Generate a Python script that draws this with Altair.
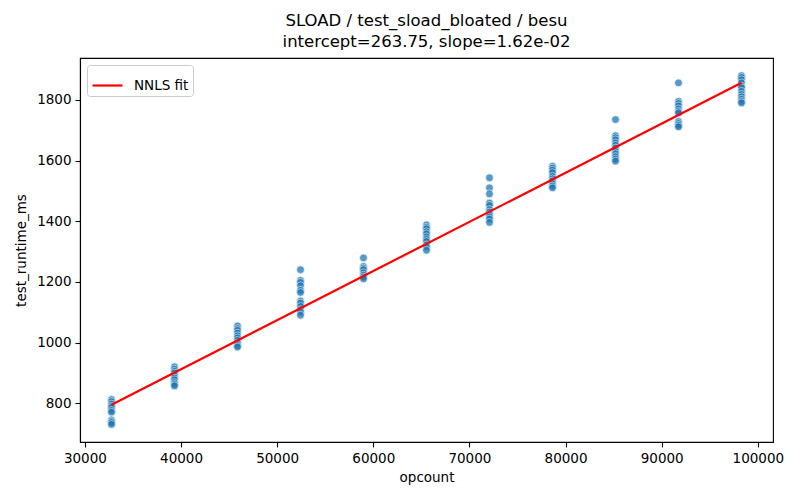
import altair as alt
import pandas as pd

opcounts = [32768, 39322, 45875, 52429, 58982, 65536, 72090, 78643, 85197, 91750, 98304]
runtimes = [
    [812, 805, 797, 790, 786, 776, 770, 745, 740, 736, 730],
    [920, 912, 905, 899, 890, 883, 877, 868, 862, 857],
    [1055, 1046, 1040, 1031, 1022, 1015, 1007, 998, 990, 985],
    [1240, 1205, 1198, 1187, 1172, 1165, 1137, 1130, 1119, 1108, 1100, 1090],
    [1279, 1251, 1245, 1240, 1230, 1222, 1216, 1210],
    [1388, 1380, 1375, 1365, 1358, 1348, 1340, 1333, 1322, 1315, 1304],
    [1543, 1510, 1490, 1460, 1452, 1438, 1430, 1421, 1414, 1407, 1396],
    [1581, 1575, 1568, 1560, 1548, 1540, 1533, 1524, 1516, 1510],
    [1735, 1682, 1675, 1668, 1658, 1650, 1641, 1630, 1622, 1613, 1605, 1598],
    [1856, 1795, 1788, 1780, 1770, 1762, 1757, 1729, 1722, 1716, 1711],
    [1880, 1874, 1866, 1856, 1845, 1840, 1828, 1818, 1810, 1802, 1795, 1790],
]
fit_x = [32768, 98304]
fit_y = [794.6, 1856.2]
fit_label = "NNLS fit"

rows = []
for xv, ys in zip(opcounts, runtimes):
    for yv in ys:
        rows.append({"opcount": xv, "test_runtime_ms": yv})
pts = pd.DataFrame(rows)
fit = pd.DataFrame({"opcount": fit_x, "test_runtime_ms": fit_y, "label": [fit_label] * 2})

FONT = "DejaVu Sans"
xs = alt.Scale(domain=[29491, 101581], nice=False, zero=False)
ys = alt.Scale(domain=[672, 1938], nice=False, zero=False)
xax = alt.Axis(values=list(range(30000, 100001, 10000)), format="d", title="opcount")
yax = alt.Axis(values=list(range(800, 1801, 200)), format="d", title="test_runtime_ms")

scatter = alt.Chart(pts).mark_circle(
    size=62, color="#1f77b4", opacity=0.75, stroke="white", strokeWidth=0.7
).encode(
    x=alt.X("opcount:Q", scale=xs, axis=xax),
    y=alt.Y("test_runtime_ms:Q", scale=ys, axis=yax),
)

line = alt.Chart(fit).mark_line(strokeWidth=2.2).encode(
    x=alt.X("opcount:Q", scale=xs, axis=xax),
    y=alt.Y("test_runtime_ms:Q", scale=ys, axis=yax),
    stroke=alt.Stroke(
        "label:N",
        scale=alt.Scale(domain=[fit_label], range=["#ff0000"]),
        legend=alt.Legend(
            title=None, orient="top-left", offset=7, symbolType="stroke",
            symbolSize=900, symbolStrokeWidth=2.2, labelFontSize=13.5,
            labelFont=FONT, labelColor="black", padding=4,
            strokeColor="#cccccc", fillColor="white", cornerRadius=3,
            labelOffset=10,
        ),
    ),
)

chart = alt.layer(scatter, line).properties(
    width=693, height=384,
    title=alt.TitleParams(
        ["SLOAD / test_sload_bloated / besu", "intercept=263.75, slope=1.62e-02"],
        font=FONT, fontSize=16.5, fontWeight="normal", color="black",
        lineHeight=21, offset=8, anchor="middle",
    ),
    autosize=alt.AutoSizeParams(type="none"),
    padding={"left": 72, "top": 50, "right": 19, "bottom": 50},
).configure_view(
    stroke="black", strokeWidth=1.1
).configure_axis(
    grid=False, domainColor="black", domainWidth=1.1, tickColor="black",
    tickSize=5, tickWidth=1.1, labelColor="black", labelFont=FONT,
    labelFontSize=13.5, labelPadding=4, titleFont=FONT, titleFontSize=13.5,
    titleFontWeight="normal", titleColor="black",
).configure_axisX(titlePadding=6).configure_axisY(titlePadding=8)

chart.save("out.html", embed_options={"renderer": "svg", "actions": False})
